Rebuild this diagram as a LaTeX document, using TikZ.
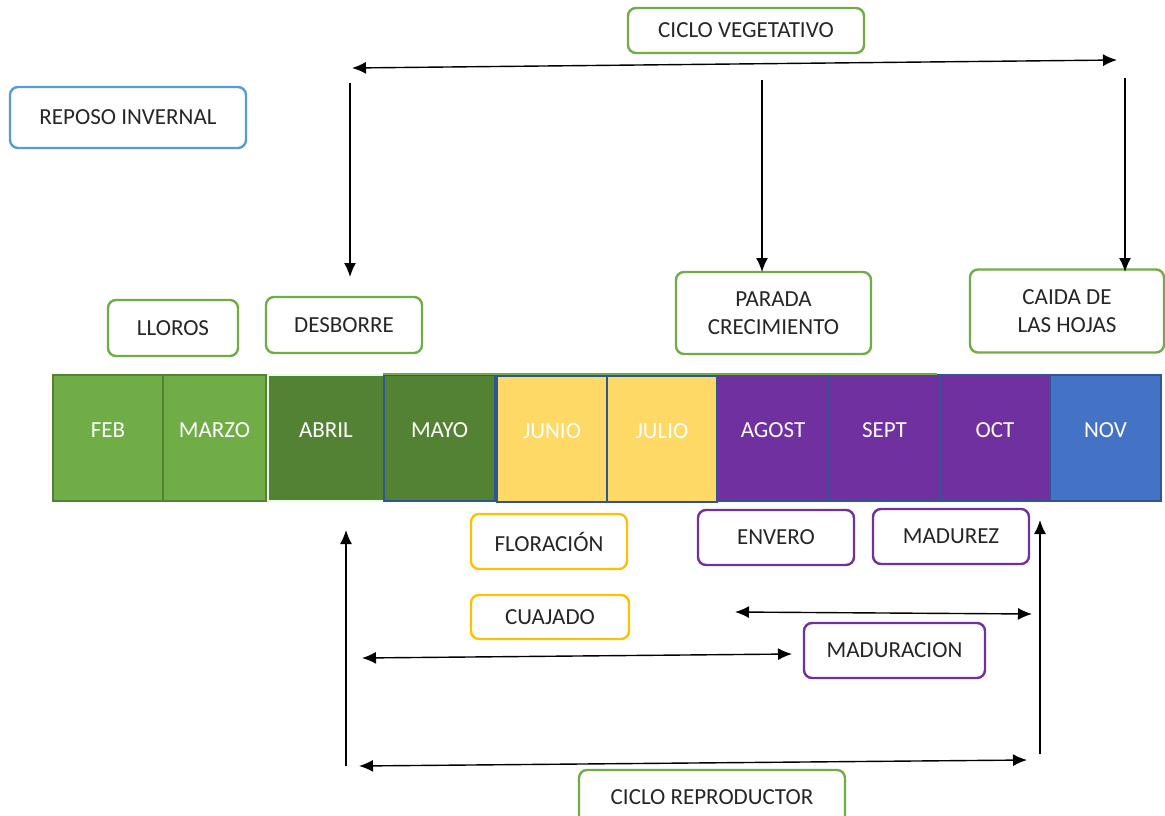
\documentclass[tikz,border=0pt]{standalone}
\usepackage{fontspec}
\setmainfont{Carlito}
\usetikzlibrary{arrows.meta}

\definecolor{lightgreen}{HTML}{70AD47}
\definecolor{darkgreen}{HTML}{548235}
\definecolor{sunyellow}{HTML}{FFD966}
\definecolor{gold}{HTML}{FFC000}
\definecolor{grape}{HTML}{7030A0}
\definecolor{sky}{HTML}{4472C4}
\definecolor{paleblue}{HTML}{5B9BD5}
\definecolor{navy}{HTML}{2F5597}

\tikzset{
  stage/.style={draw, rounded corners=8pt, line width=2.4pt, fill=white,
    align=center, inner sep=0pt, text=black!85},
  month/.style={draw, line width=2pt, minimum height=126pt, text=white,
    text height=14.4pt, text depth=16pt, inner sep=0pt},
  span/.style={{Latex[length=14pt,width=12pt]}-{Latex[length=14pt,width=12pt]}, line width=1.4pt},
  down/.style={-{Latex[length=14pt,width=12pt]}, line width=1.4pt}
}

\begin{document}
\begin{tikzpicture}[x=1pt, y=-1pt, font=\fontsize{23}{28}\selectfont]
    \clip (0,0) rectangle (1165,816);
    \fill[white] (0,0) rectangle (1165,816);

    % the months
    \node[month, fill=lightgreen, draw=darkgreen, minimum width=110pt] (feb) at (108,438) {FEB};
    \node[month, fill=lightgreen, draw=darkgreen, minimum width=103pt] (marzo) at (214.5,438) {MARZO};
    \node[month, fill=darkgreen, draw=green!10!white, minimum width=116pt] (abril) at (326,438) {ABRIL};
    \node[month, fill=darkgreen, draw=navy, minimum width=111pt] (mayo) at (439.5,438) {MAYO};
    \node[month, fill=sunyellow, draw=navy, minimum width=110pt] (junio) at (552,439) {JUNIO};
    \node[month, fill=sunyellow, draw=navy, minimum width=110pt] (julio) at (662,439) {JULIO};
    \node[month, fill=grape, draw=navy, minimum width=112pt] (agost) at (773,438) {AGOST};
    \node[month, fill=grape, draw=navy, minimum width=111pt] (sept) at (884.5,438) {SEPT};
    \node[month, fill=grape, draw=navy, minimum width=110pt] (oct) at (995,438) {OCT};
    \node[month, fill=sky, draw=navy, minimum width=111pt] (nov) at (1105.5,438) {NOV};
    \draw[lightgreen, line width=2pt] (mayo.north west) -- ([xshift=-2pt]oct.north west);

    % stages above
    \node[stage, draw=lightgreen, minimum width=236pt, minimum height=45pt] (vegetativo) at (746,30.5) {CICLO VEGETATIVO};
    \node[stage, draw=paleblue, minimum width=236pt, minimum height=61pt] (reposo) at (128,117.5) {REPOSO INVERNAL};
    \node[stage, draw=lightgreen, minimum width=130pt, minimum height=56pt] (lloros) at (173,328) {LLOROS};
    \node[stage, draw=lightgreen, minimum width=156pt, minimum height=56pt] (desborre) at (344,325) {DESBORRE};
    \node[stage, draw=lightgreen, minimum width=195pt, minimum height=82pt] (parada) at (773.5,313) {PARADA\\CRECIMIENTO};
    \node[stage, draw=lightgreen, minimum width=194pt, minimum height=83pt] (caida) at (1067,311) {CAIDA DE\\LAS HOJAS};

    % stages below
    \node[stage, draw=gold, minimum width=156pt, minimum height=55pt] (floracion) at (549,541.5) {FLORACIÓN};
    \node[stage, draw=gold, minimum width=158pt, minimum height=44pt] (cuajado) at (550,617) {CUAJADO};
    \node[stage, draw=grape, minimum width=156pt, minimum height=55pt] (envero) at (776,537.5) {ENVERO};
    \node[stage, draw=grape, minimum width=156pt, minimum height=55pt] (madurez) at (951,536.5) {MADUREZ};
    \node[stage, draw=grape, minimum width=181pt, minimum height=55pt] (maduracion) at (894.5,650.5) {MADURACION};
    \node[stage, draw=lightgreen, minimum width=266pt, minimum height=54pt] (reproductor) at (712,797) {CICLO REPRODUCTOR};

    % arrow ends
    \coordinate (vegL) at (352,68);
    \coordinate (vegR) at (1117,60);
    \coordinate (desTop) at (350,83);
    \coordinate (desEnd) at (350,277);
    \coordinate (parTop) at (762,80);
    \coordinate (parEnd) at (762,272);
    \coordinate (caiTop) at (1125,78);
    \coordinate (caiEnd) at (1125,272);
    \coordinate (repBase) at (346,766);
    \coordinate (repTip) at (346,530);
    \coordinate (madBase) at (1040,754);
    \coordinate (madTip) at (1040,520);
    \coordinate (envL) at (735,612);
    \coordinate (envR) at (1032,614);
    \coordinate (cuaL) at (362,658);
    \coordinate (cuaR) at (792,654);
    \coordinate (repL) at (359,766);
    \coordinate (repR) at (1027,760);

    \draw[span] (vegL) -- (vegR);
    \draw[down] (desTop) -- (desEnd);
    \draw[down] (parTop) -- (parEnd);
    \draw[down] (caiTop) -- (caiEnd);
    \draw[down] (repBase) -- (repTip);
    \draw[down] (madBase) -- (madTip);
    \draw[span] (envL) -- (envR);
    \draw[span] (cuaL) -- (cuaR);
    \draw[span] (repL) -- (repR);
\end{tikzpicture}
\end{document}
